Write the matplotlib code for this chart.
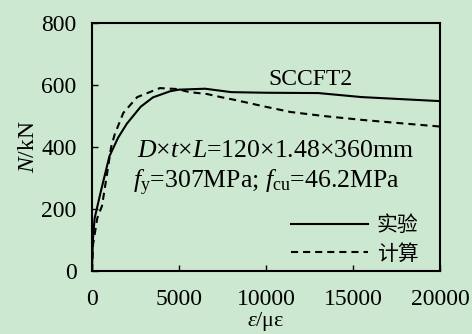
import matplotlib
matplotlib.use("Agg")
import matplotlib.pyplot as plt

plt.rcParams['font.family'] = ['Liberation Serif', 'Noto Sans CJK SC']
plt.rcParams['mathtext.fontset'] = 'custom'
plt.rcParams['mathtext.rm'] = 'Liberation Serif'
plt.rcParams['mathtext.it'] = 'Liberation Serif:italic'

# Data
exp_x = [0, 50, 150, 500, 1000, 1500, 2000, 2800, 3500, 4500, 5000, 6500, 8000, 10000, 13000, 15500, 20000]
exp_y = [0, 100, 170, 255, 370, 430, 475, 530, 560, 580, 585, 588, 577, 575, 574, 561, 548]
calc_x = [0, 60, 300, 575, 800, 1100, 1300, 1800, 2600, 3900, 4900, 5600, 6600, 7400, 8200, 9800, 11400, 13300, 15600, 18300, 20000]
calc_y = [0, 85, 170, 210, 290, 400, 440, 510, 561, 590, 587, 577, 571, 561, 552, 532, 513, 500, 487, 474, 466]
xticks = [0, 5000, 10000, 15000, 20000]
yticks = [0, 200, 400, 600, 800]

FS = 17
bg = '#cde8d0'
fig = plt.figure(figsize=(4.72, 3.34), dpi=100, facecolor=bg)
ax = fig.add_axes([92/472, 1 - 271/334, 348/472, 248/334])
ax.set_facecolor(bg)

ax.plot(exp_x, exp_y, color='black', lw=1.5, label='实验')
ax.plot(calc_x, calc_y, color='black', lw=1.5, linestyle=(0, (3.4, 2.4)), label='计算')

ax.set_xlim(0, 20000)
ax.set_ylim(0, 800)
ax.set_xticks(xticks)
ax.set_yticks(yticks)
ax.tick_params(direction='in', length=4, width=1, labelsize=FS)
ax.tick_params(axis='x', pad=13)
ax.tick_params(axis='y', pad=11)
for s in ax.spines.values():
    s.set_linewidth(1.5)

ax.set_xlabel(r'$\varepsilon$/με', fontsize=16, labelpad=0)
ax.set_ylabel(r'$N$/kN', fontsize=FS, labelpad=2)

ax.text(0.506, 0.75, 'SCCFT2', transform=ax.transAxes, fontsize=FS)
ax.text(0.13, 0.46, r'$D$×$t$×$L$=120×1.48×360mm', transform=ax.transAxes, fontsize=18.5)
ax.text(0.118, 0.335, r'$f_{\mathrm{y}}$=307MPa; $f_{\mathrm{cu}}$=46.2MPa', transform=ax.transAxes, fontsize=18.5)

leg = ax.legend(loc='lower right', bbox_to_anchor=(0.974, -0.025), frameon=False,
                handlelength=3.7, handletextpad=0.4, labelspacing=0.3, borderaxespad=0.2,
                prop={'family': ['Noto Sans CJK SC'], 'size': 15})

fig.savefig('out.png', dpi=100, facecolor=bg)
